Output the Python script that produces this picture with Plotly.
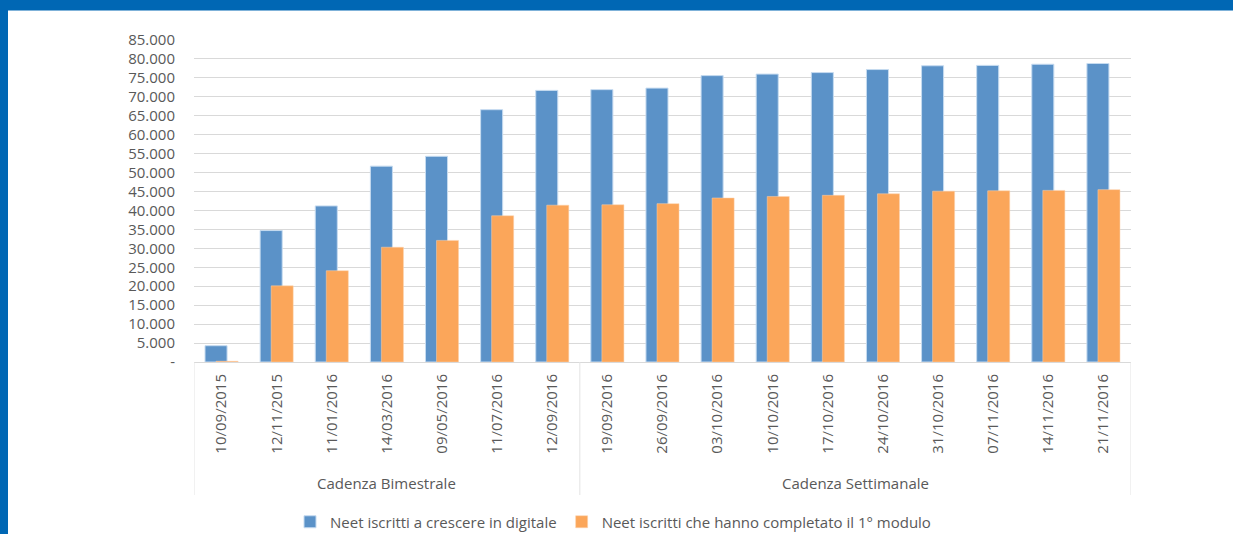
import plotly.graph_objects as go

dates = ["10/09/2015", "12/11/2015", "11/01/2016", "14/03/2016", "09/05/2016",
         "11/07/2016", "12/09/2016", "19/09/2016", "26/09/2016", "03/10/2016",
         "10/10/2016", "17/10/2016", "24/10/2016", "31/10/2016", "07/11/2016",
         "14/11/2016", "21/11/2016"]
iscritti = [4300, 34700, 41200, 51700, 54300, 66600, 71700, 71900, 72300, 75600,
            76000, 76400, 77200, 78200, 78300, 78600, 78800]
completato = [200, 20100, 24100, 30300, 32100, 38600, 41400, 41500, 41800, 43300,
              43700, 44000, 44400, 45100, 45200, 45300, 45500]
series_names = ["Neet iscritti a crescere in digitale",
                "Neet iscritti che hanno completato il 1° modulo"]
groups = ["Cadenza Bimestrale", "Cadenza Settimanale"]
group_sizes = [7, 10]
y_tickvals = list(range(0, 85001, 5000))
y_ticktext = ["-"] + [f"{v // 1000}.000" for v in y_tickvals[1:]]

FONT = "Open Sans"
GREY = "#595959"
BLUE = "#5B92C8"
ORANGE = "#FBA65A"
FRAME = "#0067B4"

fig = go.Figure()
fig.add_trace(go.Bar(x=dates, y=iscritti, name=series_names[0],
                     marker=dict(color=BLUE, line=dict(color="#C6DBF0", width=1)),
                     width=0.4, offset=-0.3))
fig.add_trace(go.Bar(x=dates, y=completato, name=series_names[1],
                     marker=dict(color=ORANGE, line=dict(color="#FDD3AE", width=0.5)),
                     width=0.4, offset=-0.1))

L, R, T, B = 194, 102, 40, 172
W, H = 1233, 534
pw, ph = W - L - R, H - T - B

def px(xp):
    return (xp - L) / pw

def py(yp):
    return (H - B - yp) / ph

shapes = []
bounds = [-0.5]
for s in group_sizes:
    bounds.append(bounds[-1] + s)
for b in bounds:
    shapes.append(dict(type="line", xref="x", yref="paper", x0=b, x1=b,
                       y0=0, y1=py(495), line=dict(color="#E3E3E3", width=1)))
shapes.append(dict(type="rect", xref="paper", yref="paper", x0=px(-2), x1=px(8),
                   y0=py(H + 2), y1=py(-2), fillcolor=FRAME, line=dict(width=0), layer="above"))
shapes.append(dict(type="rect", xref="paper", yref="paper", x0=px(-2), x1=px(W + 2),
                   y0=py(10.5), y1=py(-2), fillcolor=FRAME, line=dict(width=0), layer="above"))

annotations = []
start = 0
for g, s in zip(groups, group_sizes):
    annotations.append(dict(text=g, xref="x", yref="paper", x=start + (s - 1) / 2,
                            y=py(483), showarrow=False, xanchor="center", yanchor="middle",
                            font=dict(family=FONT, size=15, color=GREY)))
    start += s

fig.update_layout(
    width=W, height=H,
    margin=dict(l=L, r=R, t=T, b=B, pad=0, autoexpand=False),
    paper_bgcolor="white", plot_bgcolor="white",
    barmode="overlay",
    font=dict(family=FONT, size=15, color=GREY),
    showlegend=True,
    legend=dict(orientation="h", x=px(613), xanchor="center", y=py(522), yanchor="middle",
                font=dict(family=FONT, size=15, color=GREY), traceorder="normal",
                itemwidth=30, bgcolor="rgba(0,0,0,0)"),
    xaxis=dict(type="category", tickangle=-90, showgrid=False, showline=False,
               ticks="", ticklabelstandoff=8, range=[-0.5, 16.5], automargin=False,
               tickfont=dict(family=FONT, size=15, color=GREY)),
    yaxis=dict(range=[0, 85000], tickvals=y_tickvals, ticktext=y_ticktext,
               showgrid=True, gridcolor="#D9D9D9", gridwidth=1, zeroline=True,
               zerolinecolor="#D9D9D9", zerolinewidth=1, showline=False, ticks="",
               ticklabelstandoff=18, automargin=False,
               tickfont=dict(family=FONT, size=15, color=GREY)),
    shapes=shapes, annotations=annotations,
)

fig.write_html("out.html", config={"displayModeBar": False},
               post_script="document.body.style.margin='0';document.body.style.overflow='hidden';")
